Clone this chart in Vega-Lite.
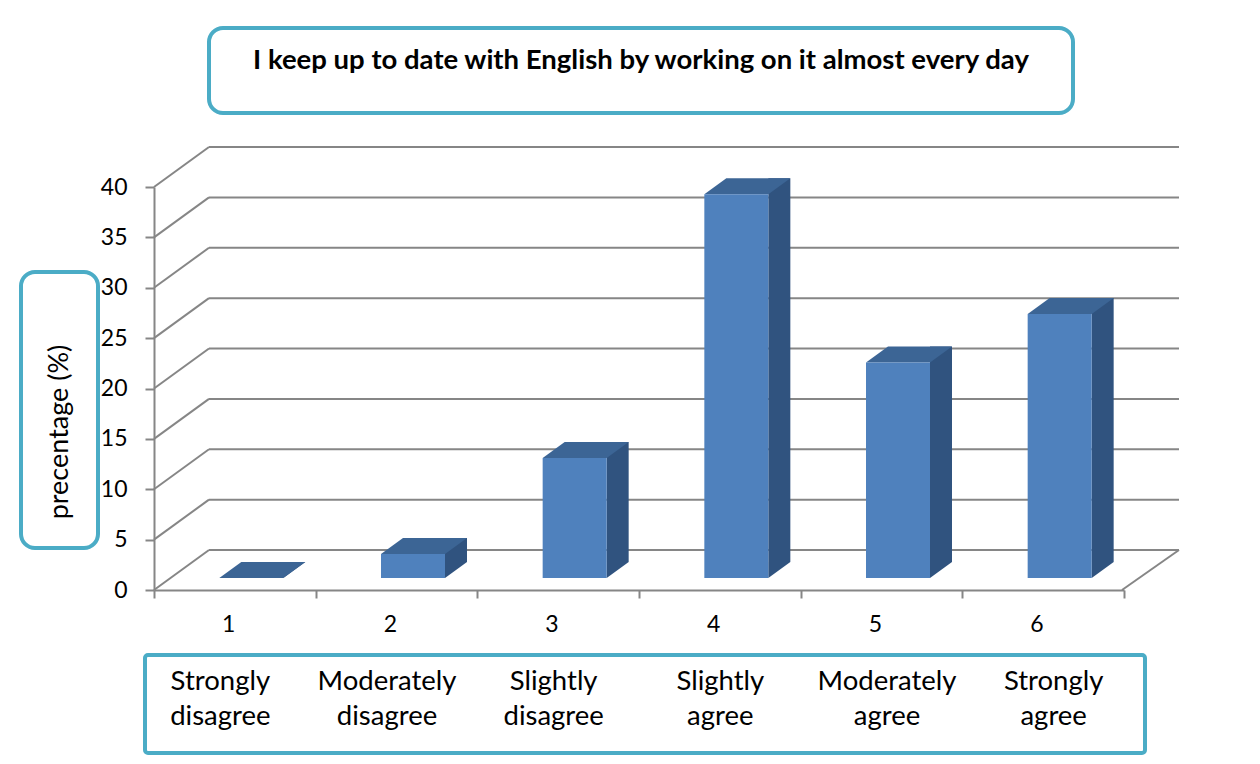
{
  "$schema": "https://vega.github.io/schema/vega-lite/v6.json",
  "padding": 0,
  "background": "white",
  "spacing": 0,
  "config": {
    "view": {"stroke": null},
    "font": "Lato",
    "axis": {"labelColor": "#000000", "labelFont": "Lato"}
  },
  "datasets": {
    "survey": [
      {"cat": "1", "label": "Strongly disagree", "pct": 0},
      {"cat": "2", "label": "Moderately disagree", "pct": 2.38},
      {"cat": "3", "label": "Slightly disagree", "pct": 11.9},
      {"cat": "4", "label": "Slightly agree", "pct": 38.1},
      {"cat": "5", "label": "Moderately agree", "pct": 21.4},
      {"cat": "6", "label": "Strongly agree", "pct": 26.2}
    ],
    "grid": [
      {"v": 0}, {"v": 5}, {"v": 10}, {"v": 15}, {"v": 20},
      {"v": 25}, {"v": 30}, {"v": 35}, {"v": 40}
    ]
  },
  "vconcat": [
    {"data": {"values": [{}]}, "mark": {"type": "text", "text": ""}, "width": 1, "height": 26},
    {
      "hconcat": [
        {"data": {"values": [{}]}, "mark": {"type": "text", "text": ""}, "width": 209, "height": 85},
        {
          "data": {"values": [{"t": "I keep up to date with English by working on it almost every day"}]},
          "width": 864,
          "height": 85,
          "view": {"stroke": "#4BACC6", "strokeWidth": 4, "cornerRadius": 14, "fill": "white"},
          "mark": {"type": "text", "font": "Lato", "fontWeight": "bold", "fontSize": 27.5, "color": "#000000", "yOffset": -10},
          "encoding": {"text": {"field": "t"}}
        }
      ],
      "spacing": 0,
      "bounds": "flush"
    },
    {"data": {"values": [{}]}, "mark": {"type": "text", "text": ""}, "width": 1, "height": 31},
    {
      "hconcat": [
        {
          "vconcat": [
            {"data": {"values": [{}]}, "mark": {"type": "text", "text": ""}, "width": 1, "height": 123},
            {
              "hconcat": [
                {"data": {"values": [{}]}, "mark": {"type": "text", "text": ""}, "width": 21, "height": 276},
                {
                  "data": {"values": [{"t": "precentage (%)"}]},
                  "width": 77,
                  "height": 276,
                  "view": {"stroke": "#4BACC6", "strokeWidth": 4, "cornerRadius": 14, "fill": "white"},
                  "mark": {"type": "text", "angle": 270, "fontSize": 27, "color": "#000000", "yOffset": 22},
                  "encoding": {"text": {"field": "t"}}
                }
              ],
              "spacing": 0,
              "bounds": "flush"
            }
          ],
          "spacing": 0
        },
        {
          "width": 970,
          "height": 403,
          "layer": [
            {
              "data": {"name": "grid"},
              "mark": {"type": "rule", "color": "#868686", "strokeWidth": 2},
              "encoding": {
                "y": {"field": "v", "type": "quantitative", "scale": {"domain": [0, 40], "nice": false}}
              }
            },
            {
              "data": {"name": "grid"},
              "mark": {"type": "rule", "color": "#868686", "strokeWidth": 2, "x2Offset": -55, "y2Offset": 40},
              "encoding": {
                "x": {"datum": "1", "bandPosition": 0, "scale": {"paddingInner": 0, "paddingOuter": 0}},
                "x2": {"datum": "1", "bandPosition": 0},
                "y": {"field": "v", "type": "quantitative", "scale": {"domain": [0, 40], "nice": false}},
                "y2": {"field": "v"}
              }
            },
            {
              "data": {"name": "grid"},
              "transform": [{"filter": "datum.v == 0"}],
              "mark": {"type": "rule", "color": "#868686", "strokeWidth": 2, "x2Offset": -57, "y2Offset": 40},
              "encoding": {
                "x": {"datum": "6", "bandPosition": 1, "scale": {"paddingInner": 0, "paddingOuter": 0}},
                "x2": {"datum": "6", "bandPosition": 1},
                "y": {"field": "v", "type": "quantitative", "scale": {"domain": [0, 40], "nice": false}},
                "y2": {"field": "v"}
              }
            },
            {
              "data": {"name": "survey"},
              "mark": {"type": "bar", "color": "#30537F", "width": 22, "xOffset": 4.5, "yOffset": 12, "y2Offset": 12},
              "encoding": {
                "x": {"field": "cat", "type": "nominal", "scale": {"paddingInner": 0, "paddingOuter": 0}},
                "y": {"field": "pct", "type": "quantitative", "scale": {"domain": [0, 40], "nice": false}},
                "y2": {"datum": 0}
              }
            },
            {
              "data": {"name": "survey"},
              "mark": {"type": "point", "shape": "M0,0L0,16L22,0Z", "size": 4, "filled": true, "opacity": 1, "strokeWidth": 0, "color": "#30537F", "xOffset": -6.5, "yOffset": 12},
              "encoding": {
                "x": {"field": "cat", "type": "nominal", "scale": {"paddingInner": 0, "paddingOuter": 0}},
                "y": {"datum": 0, "type": "quantitative", "scale": {"domain": [0, 40], "nice": false}}
              }
            },
            {
              "data": {"name": "survey"},
              "mark": {"type": "point", "shape": "M0,0L64,0L86,-16L22,-16Z", "size": 4, "filled": true, "opacity": 1, "strokeWidth": 0, "color": "#3C6595", "xOffset": -70.5, "yOffset": 28},
              "encoding": {
                "x": {"field": "cat", "type": "nominal", "scale": {"paddingInner": 0, "paddingOuter": 0}},
                "y": {"field": "pct", "type": "quantitative", "scale": {"domain": [0, 40], "nice": false}}
              }
            },
            {
              "data": {"name": "survey"},
              "mark": {"type": "bar", "color": "#4F81BD", "width": 64, "xOffset": -38.5, "yOffset": 28, "y2Offset": 28},
              "encoding": {
                "x": {
                  "field": "cat",
                  "type": "nominal",
                  "scale": {"paddingInner": 0, "paddingOuter": 0},
                  "axis": {
                    "orient": "bottom", "offset": 40, "position": -55, "tickBand": "extent",
                    "labelAngle": 0, "labelFontSize": 23, "labelPadding": 26,
                    "tickSize": 8, "tickWidth": 2, "tickColor": "#868686",
                    "domainColor": "#868686", "domainWidth": 2, "title": null, "grid": false
                  }
                },
                "y": {
                  "field": "pct",
                  "type": "quantitative",
                  "scale": {"domain": [0, 40], "nice": false},
                  "axis": {
                    "orient": "left", "offset": 55, "position": 40,
                    "values": [0, 5, 10, 15, 20, 25, 30, 35, 40],
                    "labelFontSize": 23, "labelPadding": 18,
                    "tickSize": 9, "tickWidth": 2, "tickColor": "#868686",
                    "domainColor": "#868686", "domainWidth": 2, "title": null, "grid": false
                  }
                },
                "y2": {"datum": 0}
              }
            }
          ]
        }
      ],
      "spacing": 0
    },
    {"data": {"values": [{}]}, "mark": {"type": "text", "text": ""}, "width": 1, "height": 17},
    {
      "hconcat": [
        {"data": {"values": [{}]}, "mark": {"type": "text", "text": ""}, "width": 145, "height": 98},
        {
          "data": {"name": "survey"},
          "width": 1000,
          "height": 98,
          "view": {"stroke": "#4BACC6", "strokeWidth": 4, "cornerRadius": 3, "fill": "white"},
          "mark": {"type": "text", "fontSize": 27.5, "lineBreak": " ", "lineHeight": 35, "xOffset": -8, "yOffset": -22, "color": "#000000"},
          "encoding": {
            "x": {"field": "cat", "type": "nominal", "axis": null, "scale": {"paddingInner": 0, "paddingOuter": 0}},
            "text": {"field": "label"}
          }
        }
      ],
      "spacing": 0,
      "bounds": "flush"
    }
  ]
}
